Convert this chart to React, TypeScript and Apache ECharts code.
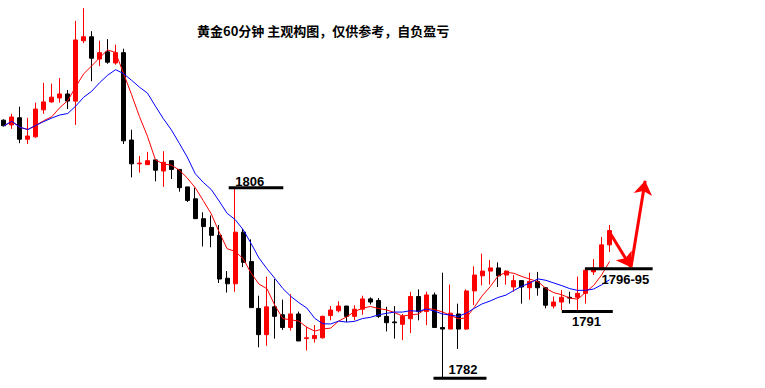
import React, { useEffect, useRef } from "react";
import * as echarts from "echarts";

// Gold 60-minute candles: [open, close, low, high]
const candles: number[][] = [
  [1814.5, 1813.8, 1813.7, 1814.6],
  [1813.9, 1814.9, 1813.4, 1815.3],
  [1814.8, 1812.1, 1811.6, 1816.2],
  [1812.1, 1812.5, 1811.5, 1814.8],
  [1812.4, 1815.9, 1812.3, 1816.7],
  [1815.8, 1816.8, 1815.3, 1819.2],
  [1816.8, 1817.4, 1816.7, 1819.1],
  [1817.3, 1817.8, 1816.7, 1819.8],
  [1817.8, 1816.9, 1815.9, 1818.3],
  [1816.9, 1824.6, 1813.9, 1827.0],
  [1824.5, 1825.0, 1824.2, 1828.6],
  [1825.0, 1822.3, 1819.4, 1825.7],
  [1822.2, 1823.0, 1821.3, 1824.5],
  [1823.1, 1821.8, 1821.6, 1824.7],
  [1821.7, 1823.0, 1821.5, 1824.0],
  [1823.0, 1811.9, 1811.5, 1823.5],
  [1812.0, 1809.0, 1807.3, 1813.3],
  [1809.0, 1809.1, 1807.9, 1810.0],
  [1808.9, 1809.4, 1808.9, 1810.5],
  [1809.5, 1808.2, 1806.8, 1809.5],
  [1808.1, 1809.2, 1806.1, 1810.6],
  [1809.4, 1808.3, 1807.1, 1809.4],
  [1808.3, 1806.0, 1805.5, 1808.3],
  [1806.1, 1804.4, 1804.2, 1806.1],
  [1804.6, 1802.1, 1802.1, 1806.0],
  [1802.1, 1801.1, 1798.6, 1802.9],
  [1801.0, 1800.0, 1798.5, 1802.5],
  [1800.0, 1794.5, 1794.0, 1801.3],
  [1794.6, 1793.9, 1792.8, 1795.5],
  [1793.9, 1800.4, 1792.9, 1806.0],
  [1800.4, 1796.6, 1796.0, 1800.8],
  [1796.7, 1790.9, 1790.9, 1799.5],
  [1790.8, 1787.5, 1785.9, 1792.4],
  [1787.5, 1791.0, 1786.1, 1794.8],
  [1791.0, 1789.8, 1787.0, 1794.5],
  [1790.0, 1788.4, 1788.1, 1791.9],
  [1788.4, 1790.1, 1788.0, 1792.6],
  [1790.1, 1786.7, 1786.7, 1790.4],
  [1787.0, 1787.1, 1785.5, 1788.5],
  [1787.0, 1787.4, 1786.5, 1788.7],
  [1787.1, 1789.8, 1787.0, 1789.9],
  [1789.9, 1790.6, 1789.3, 1791.1],
  [1790.5, 1791.1, 1790.3, 1791.7],
  [1791.1, 1789.8, 1789.1, 1791.1],
  [1789.8, 1790.7, 1789.3, 1791.2],
  [1790.7, 1792.0, 1790.0, 1792.4],
  [1792.0, 1791.6, 1791.3, 1792.2],
  [1791.8, 1789.8, 1789.6, 1792.1],
  [1789.8, 1789.0, 1787.9, 1791.0],
  [1789.1, 1789.0, 1787.0, 1791.1],
  [1788.8, 1789.8, 1786.8, 1790.1],
  [1789.5, 1792.3, 1787.7, 1792.9],
  [1792.3, 1790.4, 1789.3, 1793.2],
  [1790.4, 1792.5, 1788.7, 1792.9],
  [1792.5, 1788.4, 1788.4, 1792.8],
  [1788.4, 1788.2, 1782.0, 1795.3],
  [1788.2, 1790.2, 1788.2, 1793.8],
  [1790.1, 1788.2, 1785.7, 1791.4],
  [1788.2, 1793.0, 1788.1, 1793.2],
  [1793.0, 1795.0, 1791.2, 1796.1],
  [1794.9, 1795.5, 1793.7, 1797.7],
  [1795.5, 1795.9, 1793.8, 1796.9],
  [1795.9, 1794.9, 1793.5, 1796.6],
  [1795.0, 1795.5, 1793.8, 1795.6],
  [1793.5, 1794.3, 1792.9, 1795.0],
  [1794.3, 1793.5, 1791.4, 1794.3],
  [1793.4, 1794.2, 1791.9, 1795.3],
  [1794.2, 1793.4, 1792.4, 1795.4],
  [1793.4, 1791.2, 1790.8, 1793.5],
  [1791.1, 1791.6, 1790.8, 1792.3],
  [1791.6, 1792.2, 1790.6, 1793.1],
  [1792.2, 1792.1, 1791.4, 1792.9],
  [1792.2, 1792.7, 1790.4, 1794.8],
  [1792.7, 1795.6, 1791.4, 1795.9],
  [1795.4, 1795.9, 1795.0, 1797.0],
  [1795.9, 1798.8, 1795.6, 1799.8],
  [1798.8, 1800.6, 1797.9, 1801.3],
];

// hourly slots on the axis (candles plus the empty space on the right)
const slotCount = 96;
const categories: string[] = Array.from({ length: slotCount }, (_, i) => `${i + 1}`);

// key levels marked on the chart
const levelLabels = ["1806", "1782", "1791", "1796-95"];
const levelPrices = [1806.0, 1782.0, 1790.4, 1795.8];
const levelSpans = [
  [28.2, 35.05],
  [53.9, 60.55],
  [70.0, 76.4],
  [72.9, 81.4],
];
const levelLabelAnchors = [
  [30.84, 1806.8],
  [57.6, 1783.05],
  [73.1, 1789.2],
  [77.99, 1794.48],
];

// projected path (slot index, price)
const projection = [
  [75.96, 1800.46],
  [78.68, 1795.98],
  [80.46, 1806.88],
];

const title = "黄金60分钟 主观构图，仅供参考，自负盈亏";

function movingAverage(closes: number[], n: number): number[] {
  return closes.map((_, i) => {
    const w = closes.slice(Math.max(0, i - n + 1), i + 1);
    return +(w.reduce((a, b) => a + b, 0) / w.length).toFixed(2);
  });
}

export default function App() {
  const ref = useRef<HTMLDivElement>(null);

  useEffect(() => {
    if (!ref.current) return;
    const chart = echarts.init(ref.current, undefined, { renderer: "svg" });
    const closes = candles.map((c) => c[1]);
    const ma5 = movingAverage(closes, 5);
    const ma10 = movingAverage(closes, 10);

    const levelSeries = levelPrices.map((p, i) => ({
      type: "line",
      xAxisIndex: 1,
      yAxisIndex: 0,
      data: [
        [levelSpans[i][0], p],
        [levelSpans[i][1], p],
      ],
      symbol: "none",
      silent: true,
      lineStyle: { color: "#000000", width: 3 },
      z: 5,
    }));

    const option: any = {
      animation: false,
      backgroundColor: "#ffffff",
      grid: { left: -1.7, top: 0, width: 768, height: 388 },
      xAxis: [
        {
          type: "category",
          data: categories,
          show: false,
          boundaryGap: true,
        },
        {
          type: "value",
          min: -0.5,
          max: slotCount - 0.5,
          show: false,
        },
      ],
      yAxis: [
        {
          type: "value",
          min: 1780.78,
          max: 1829.63,
          show: false,
          scale: true,
        },
      ],
      graphic: [
        {
          type: "text",
          left: 197,
          top: 24,
          style: {
            text: title,
            fontFamily: "Noto Sans CJK SC",
            fontWeight: "bold",
            fontSize: 13,
            fill: "#000000",
          },
        },
      ],
      series: [
        {
          type: "candlestick",
          data: candles,
          barWidth: 4.5,
          itemStyle: {
            color: "#ff0000",
            color0: "#000000",
            borderColor: "#ff0000",
            borderColor0: "#000000",
            borderWidth: 1,
          },
          z: 2,
        },
        {
          type: "line",
          data: ma5,
          symbol: "none",
          lineStyle: { color: "#ff0000", width: 1 },
          z: 3,
        },
        {
          type: "line",
          data: ma10,
          symbol: "none",
          lineStyle: { color: "#0000ff", width: 1 },
          z: 3,
        },
        ...levelSeries,
        {
          type: "scatter",
          xAxisIndex: 1,
          yAxisIndex: 0,
          symbolSize: 1,
          itemStyle: { color: "rgba(0,0,0,0)" },
          silent: true,
          data: levelLabels.map((t, i) => ({
            name: t,
            value: levelLabelAnchors[i],
          })),
          label: {
            show: true,
            position: "inside",
            formatter: "{b}",
            fontFamily: "Liberation Sans",
            fontWeight: "bold",
            fontSize: 13,
            color: "#000000",
            textBorderWidth: 0,
            opacity: 1,
          },
          z: 6,
        },
        {
          type: "line",
          xAxisIndex: 1,
          yAxisIndex: 0,
          data: [],
          silent: true,
          markLine: {
            silent: true,
            symbol: ["none", "arrow"],
            symbolSize: 14,
            label: { show: false },
            lineStyle: { color: "#ff0000", width: 3, type: "solid" },
            data: [
              [{ coord: projection[0] }, { coord: projection[1] }],
              [{ coord: projection[1] }, { coord: projection[2] }],
            ],
          },
          z: 6,
        },
      ],
    };
    chart.setOption(option);
    return () => chart.dispose();
  }, []);

  return (
    <div
      ref={ref}
      style={{ position: "fixed", left: 0, top: 0, width: 765, height: 388, background: "#fff" }}
    />
  );
}
